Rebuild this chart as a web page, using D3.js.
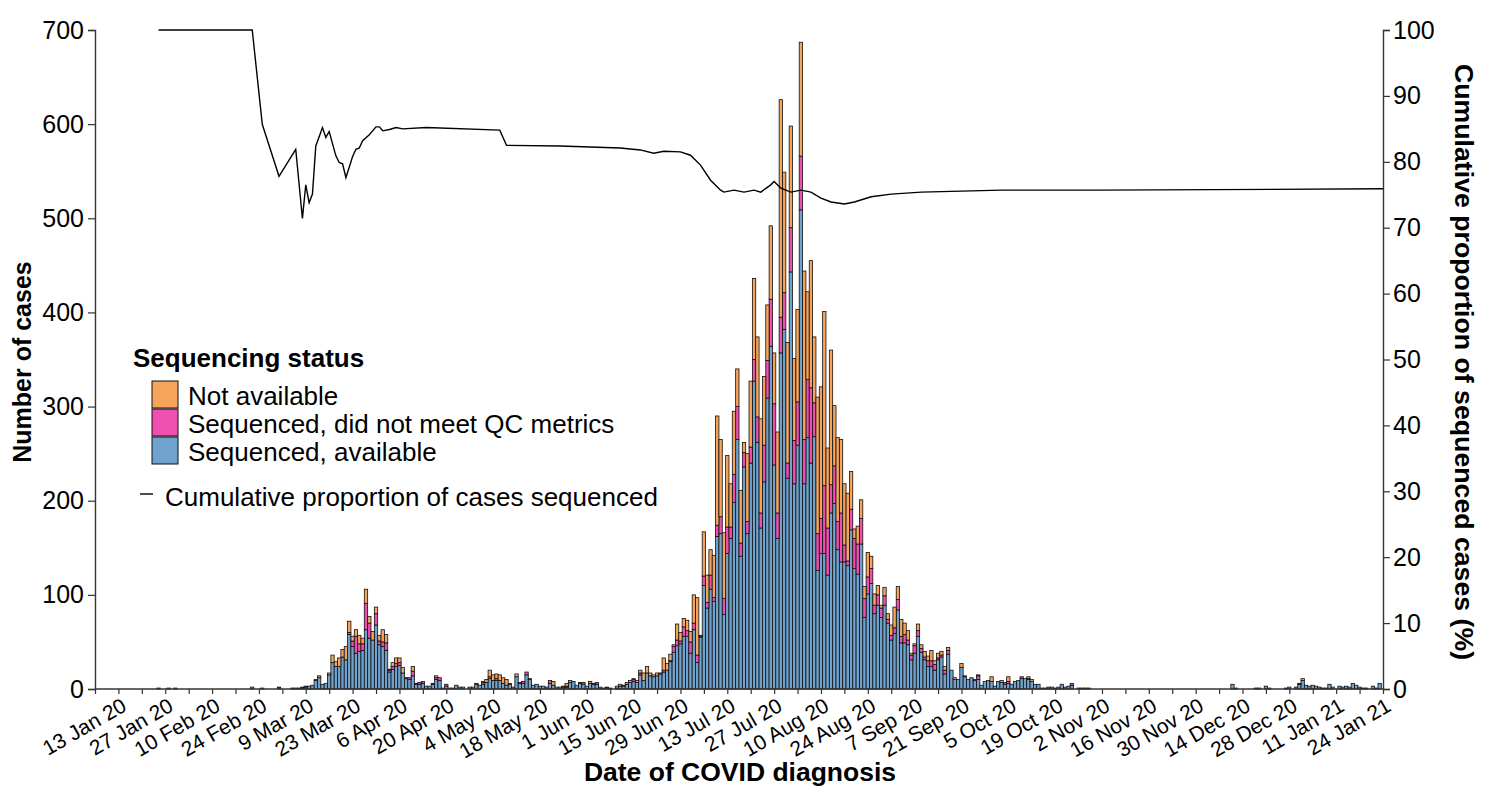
<!DOCTYPE html>
<html>
<head>
<meta charset="utf-8">
<script src="https://cdn.jsdelivr.net/npm/d3@7"></script>
<style>
  body { margin: 0; background: #fff; }
  svg { font-family: "Liberation Sans", Arial, Helvetica, sans-serif; }
</style>
</head>
<body>
<div id="plot"></div>
<script>
// day 0 = 6 Jan 2020, one value per day up to 25 Jan 2021
const firstDay = "2020-01-06";

const seqAvailable = [
  0,0,0,0,0,0,0,0,0,0, 0,0,0,0,0,0,0,0,0,1, 0,0,1,0,1,0,0,0,0,0, 0,0,0,0,0,0,0,0,0,0,
  0,0,0,0,0,0,0,2,0,0, 0,0,0,0,0,1,0,0,0,1, 0,1,1,2,3,4,9,12,5,6, 15,28,24,24,34,31,58,45,38,40,
  41,63,54,52,68,47,45,41,18,21, 24,25,17,11,10,14,5,5,6,3, 3,5,10,9,1,3,1,1,4,2, 2,0,2,2,5,4,5,7,11,9,
  9,9,6,4,5,2,13,6,6,15, 10,4,5,3,3,2,6,4,2,2, 2,2,7,8,4,6,5,3,6,5, 5,2,1,1,1,0,1,3,3,5,
  7,8,7,15,9,17,14,13,14,16, 18,20,29,39,46,48,56,56,38,63, 28,55,110,86,106,93,162,165,79,144, 160,198,265,141,236,165,240,327,262,171,
  220,309,364,238,160,357,382,224,443,218, 259,509,218,267,240,268,126,144,144,121, 187,197,148,135,135,131,169,128,122,154, 76,101,112,80,89,76,89,70,52,59,
  84,49,49,47,31,38,56,39,31,24, 24,20,31,34,16,37,20,10,10,23, 13,10,12,9,10,4,8,9,8,3, 8,7,5,6,5,8,9,11,11,10,
  8,5,5,1,1,2,2,1,2,5, 2,3,4,0,1,1,1,1,0,0, 0,0,0,0,0,0,0,0,0,0, 0,0,0,0,0,0,0,0,0,0,
  0,0,0,0,0,0,0,0,0,0, 0,0,0,0,0,0,0,0,0,0, 5,1,0,0,0,0,0,1,1,0, 3,1,0,0,0,0,1,2,0,2,
  5,9,4,3,4,3,2,1,1,5, 2,0,3,2,3,2,6,4,2,1, 1,0,3,1,6,0
];

const seqFailedQC = [
  0,0,0,0,0,0,0,0,0,0, 0,0,0,0,0,0,0,0,0,0, 0,0,0,0,0,0,0,0,0,0, 0,0,0,0,0,0,0,0,0,0,
  0,0,0,0,0,0,0,0,0,0, 0,0,0,0,0,0,0,0,0,0, 0,0,0,0,0,0,0,0,0,0, 0,0,0,0,0,0,2,6,18,8,
  7,28,16,0,12,4,5,8,2,3, 3,3,0,1,2,5,1,2,2,0, 0,1,2,3,0,2,0,0,0,0, 0,0,0,0,0,0,2,0,2,0,
  2,0,0,0,0,0,0,1,2,3, 1,0,0,0,0,0,3,0,0,0, 0,1,0,0,0,0,2,0,0,0, 2,0,0,0,0,0,0,0,0,0,
  0,2,0,2,0,0,0,0,0,0, 2,0,1,6,6,3,10,6,12,7, 8,1,10,6,15,4,12,18,17,28, 12,30,35,14,15,13,17,23,27,16,
  39,40,50,65,27,38,39,16,47,46, 46,57,47,62,80,36,39,37,72,50, 30,40,30,52,18,5,22,32,32,27, 20,18,16,9,11,10,10,4,5,6,
  11,7,9,5,5,8,6,4,3,6, 6,6,2,2,4,4,0,0,0,0, 0,0,0,1,4,0,0,0,0,0, 0,0,2,2,0,0,0,2,0,1,
  0,0,0,0,0,0,0,0,0,0, 0,0,2,0,0,0,0,0,0,0, 0,0,0,0,0,0,0,0,0,0, 0,0,0,0,0,0,0,0,0,0,
  0,0,0,0,0,0,0,0,0,0, 0,0,0,0,0,0,0,0,0,0, 0,0,0,0,0,0,0,0,0,0, 0,0,0,0,0,0,0,0,0,0,
  1,0,0,0,0,0,0,0,0,0, 0,0,0,0,0,0,0,0,0,0, 0,0,0,0,0,0
];

const notAvailable = [
  0,0,0,0,0,0,0,0,0,0, 0,0,0,0,0,0,0,0,0,0, 0,0,0,0,0,0,0,0,0,0, 0,0,0,0,0,0,0,0,0,0,
  0,0,0,0,0,0,0,0,0,0, 1,0,0,0,0,1,0,0,0,0, 1,0,1,1,0,0,1,2,0,0, 2,8,5,9,8,14,12,5,7,9,
  6,15,7,9,7,6,13,9,1,4, 6,5,6,0,0,5,0,0,0,0, 0,0,2,0,0,0,0,0,0,0, 0,0,0,0,1,0,1,3,7,6,
  5,6,6,6,1,0,3,0,0,0, 0,0,0,0,0,0,0,4,0,0, 1,3,2,0,0,1,0,0,2,1, 0,0,0,1,0,0,2,2,1,2,
  2,1,2,3,8,7,3,2,3,1, 13,7,7,2,17,9,9,11,11,30, 61,1,47,29,27,45,116,82,70,76, 46,67,40,56,11,72,70,86,85,100,
  73,59,78,54,86,231,128,128,108,87, 98,121,179,93,135,70,145,140,185,85, 143,64,89,78,65,72,40,10,19,20, 13,26,13,12,10,3,9,6,11,22,
  14,18,12,10,2,2,7,4,6,5, 11,4,5,4,4,3,0,2,0,4, 1,0,0,0,1,0,0,0,5,0, 0,2,0,5,0,0,0,0,0,2,
  2,0,0,0,0,0,0,0,0,0, 0,0,0,0,0,0,0,0,0,0, 0,0,0,0,0,0,0,0,0,0, 0,0,0,0,0,0,0,0,0,0,
  0,0,0,0,0,0,0,0,0,0, 0,0,0,0,0,0,0,0,0,0, 0,0,0,0,0,0,0,0,0,0, 0,0,0,0,0,0,0,0,0,0,
  0,2,0,0,0,0,0,0,0,0, 0,0,0,0,0,0,0,0,0,0, 0,0,0,0,0,0
];

// cumulative proportion of cases sequenced (%)
const cumDates = [
  "2020-01-25","2020-02-22","2020-02-25","2020-03-01","2020-03-06","2020-03-08","2020-03-09","2020-03-10",
  "2020-03-11","2020-03-12","2020-03-14","2020-03-15","2020-03-16","2020-03-18","2020-03-19","2020-03-20",
  "2020-03-21","2020-03-23","2020-03-24","2020-03-25","2020-03-26","2020-03-28","2020-03-30","2020-03-31",
  "2020-04-01","2020-04-03","2020-04-05","2020-04-07","2020-04-14","2020-05-06","2020-05-08","2020-05-24",
  "2020-06-11","2020-06-17","2020-06-21","2020-06-24","2020-06-29","2020-07-02","2020-07-05","2020-07-08",
  "2020-07-11","2020-07-12","2020-07-15","2020-07-18","2020-07-21","2020-07-23","2020-07-26","2020-07-27",
  "2020-07-29","2020-08-01","2020-08-04","2020-08-07","2020-08-10","2020-08-13","2020-08-17","2020-08-20",
  "2020-08-25","2020-08-31","2020-09-09","2020-10-03","2020-11-01","2021-01-25"
];
const cumPct = [
  100,100,85.7,77.8,81.9,71.4,76.5,73.8,
  75.1,82.4,85.2,83.7,84.6,80.9,79.9,79.7,
  77.6,80.8,81.9,82.1,83.2,84.1,85.3,85.3,
  84.7,84.9,85.2,85.0,85.2,84.8,82.5,82.4,
  82.1,81.8,81.3,81.6,81.5,81.0,79.5,77.2,
  75.7,75.4,75.7,75.4,75.7,75.4,76.5,77.0,
  76.0,75.4,75.7,75.4,74.5,73.9,73.6,73.9,
  74.7,75.1,75.4,75.7,75.7,75.9
];

const xTickLabels = [
  "13 Jan 20","27 Jan 20","10 Feb 20","24 Feb 20","9 Mar 20","23 Mar 20","6 Apr 20","20 Apr 20",
  "4 May 20","18 May 20","1 Jun 20","15 Jun 20","29 Jun 20","13 Jul 20","27 Jul 20","10 Aug 20",
  "24 Aug 20","7 Sep 20","21 Sep 20","5 Oct 20","19 Oct 20","2 Nov 20","16 Nov 20","30 Nov 20",
  "14 Dec 20","28 Dec 20","11 Jan 21","24 Jan 21"
];
const yLeftTicks = [0, 100, 200, 300, 400, 500, 600, 700];
const yRightTicks = [0, 10, 20, 30, 40, 50, 60, 70, 80, 90, 100];

const seriesKeys = ["available", "failedQC", "notAvailable"];
const seriesNames = ["Sequenced, available", "Sequenced, did not meet QC metrics", "Not available"];

const colors = {
  available: "#6fa3cd",
  failedQC: "#ef4fae",
  notAvailable: "#f6a45c",
};

drawPlot();

function drawPlot() {
  const width = 1490;
  const height = 787;
  const left = 95, right = 1383, top = 30, bottom = 689;

  const parse = d3.timeParse("%Y-%m-%d");
  const start = parse(firstDay);

  const dataset = seqAvailable.map((v, i) => ({
    date: d3.timeDay.offset(start, i),
    available: v,
    failedQC: seqFailedQC[i],
    notAvailable: notAvailable[i],
  }));

  const svg = d3
    .select("#plot")
    .append("svg")
    .attr("width", width)
    .attr("height", height);

  const xScale = d3
    .scaleTime()
    .domain([start, d3.timeDay.offset(start, 385)])
    .range([left, right]);

  const yScale = d3.scaleLinear().domain([0, 700]).range([bottom, top]);
  const yRight = d3.scaleLinear().domain([0, 100]).range([bottom, top]);

  // bars
  const stacked = d3.stack().keys(seriesKeys)(dataset);
  const barW = xScale(d3.timeDay.offset(start, 1)) - xScale(start);

  svg
    .append("g")
    .selectAll("g")
    .data(stacked)
    .enter()
    .append("g")
    .attr("fill", (s) => colors[s.key])
    .selectAll("rect")
    .data((s) => s.filter((d) => d[1] - d[0] > 0))
    .enter()
    .append("rect")
    .attr("x", (d) => xScale(d.data.date) - barW / 2)
    .attr("width", barW)
    .attr("y", (d) => yScale(d[1]))
    .attr("height", (d) => yScale(d[0]) - yScale(d[1]))
    .attr("stroke", "#111")
    .attr("stroke-width", 0.8);

  // cumulative line
  const lineData = cumDates.map((d, i) => ({ date: parse(d), pct: cumPct[i] }));
  svg
    .append("path")
    .datum(lineData)
    .attr("fill", "none")
    .attr("stroke", "#000")
    .attr("stroke-width", 1.4)
    .attr("d", d3.line().x((d) => xScale(d.date)).y((d) => yRight(d.pct)));

  // axes
  const yAxis = svg
    .append("g")
    .attr("transform", `translate(${left}, 0)`)
    .call(d3.axisLeft(yScale).tickValues(yLeftTicks).tickSize(7).tickPadding(4));

  const yAxisR = svg
    .append("g")
    .attr("transform", `translate(${right}, 0)`)
    .call(d3.axisRight(yRight).tickValues(yRightTicks).tickSize(7).tickPadding(3));

  const weekly = d3.range(0, 386, 7).map((d) => d3.timeDay.offset(start, d));
  const xAxis = svg
    .append("g")
    .attr("transform", `translate(0, ${bottom})`)
    .call(d3.axisBottom(xScale).tickValues(weekly).tickSize(5).tickFormat(""));

  [yAxis, yAxisR, xAxis].forEach((g) => {
    g.select(".domain").attr("stroke", "#333").attr("stroke-width", 1.4);
    g.selectAll(".tick line").attr("stroke", "#333").attr("stroke-width", 1.2);
    g.selectAll(".tick text").attr("font-size", 25).attr("fill", "#000");
  });
  xAxis.select(".domain").attr("d", `M${left},0H${right}`);

  svg
    .append("g")
    .selectAll("text")
    .data(xTickLabels)
    .enter()
    .append("text")
    .attr("transform", (d, i) => {
      const tx = xScale(d3.timeDay.offset(start, 7 + 14 * i));
      return `translate(${tx + 2}, ${bottom + 8}) rotate(-30)`;
    })
    .attr("text-anchor", "end")
    .attr("dy", "0.71em")
    .attr("font-size", 21)
    .text((d) => d);

  // axis titles
  svg
    .append("text")
    .attr("transform", "translate(31, 362) rotate(-90)")
    .attr("text-anchor", "middle")
    .attr("font-size", 25)
    .attr("font-weight", "bold")
    .text("Number of cases");

  svg
    .append("text")
    .attr("transform", "translate(1455, 362) rotate(90)")
    .attr("text-anchor", "middle")
    .attr("font-size", 26.7)
    .attr("font-weight", "bold")
    .text("Cumulative proportion of sequenced cases (%)");

  svg
    .append("text")
    .attr("x", 740)
    .attr("y", 781)
    .attr("text-anchor", "middle")
    .attr("font-size", 26.5)
    .attr("font-weight", "bold")
    .text("Date of COVID diagnosis");

  // legend
  const legend = svg.append("g").attr("id", "legend");

  legend
    .append("text")
    .attr("x", 133)
    .attr("y", 367)
    .attr("font-size", 26)
    .attr("font-weight", "bold")
    .text("Sequencing status");

  const order = seriesKeys.slice().reverse();
  const names = seriesNames.slice().reverse();

  order.forEach((k, i) => {
    legend
      .append("rect")
      .attr("x", 152)
      .attr("y", 381 + i * 28)
      .attr("width", 26)
      .attr("height", 27)
      .attr("fill", colors[k])
      .attr("stroke", "#111")
      .attr("stroke-width", 1);
    legend
      .append("text")
      .attr("x", 188)
      .attr("y", 405 + i * 28)
      .attr("font-size", 26)
      .text(names[i]);
  });

  legend
    .append("line")
    .attr("x1", 140)
    .attr("x2", 153)
    .attr("y1", 494)
    .attr("y2", 494)
    .attr("stroke", "#000")
    .attr("stroke-width", 1.4);

  legend
    .append("text")
    .attr("x", 165)
    .attr("y", 506)
    .attr("font-size", 26)
    .text("Cumulative proportion of cases sequenced");
}
</script>
</body>
</html>
